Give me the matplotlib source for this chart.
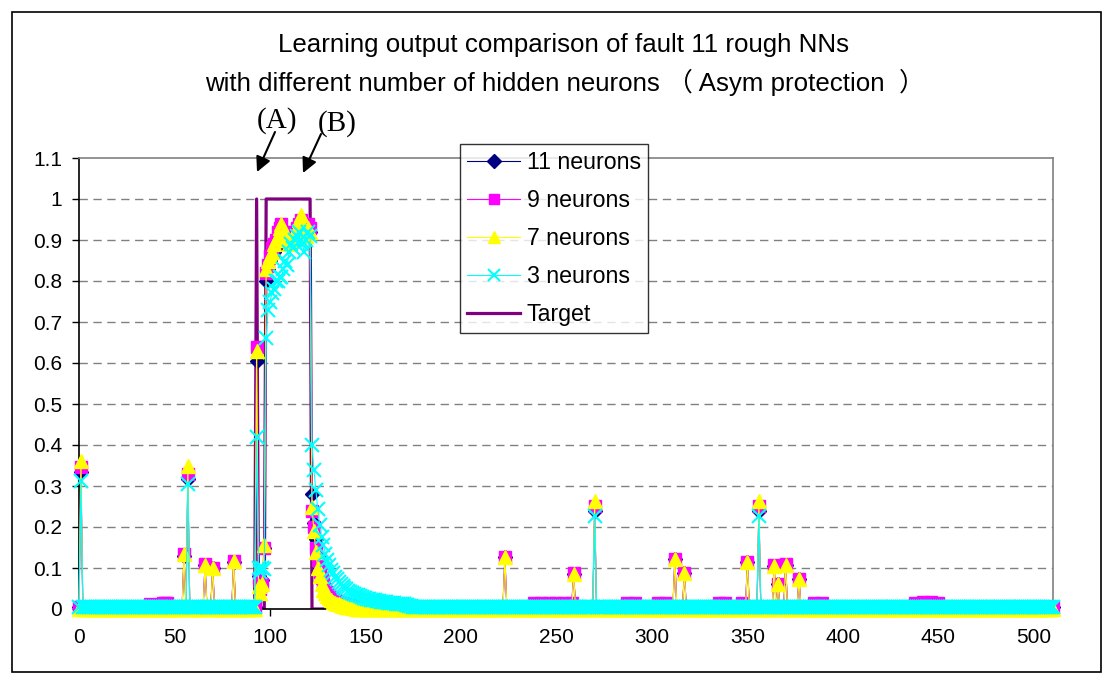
import matplotlib
matplotlib.use("Agg")
import matplotlib.pyplot as plt
import numpy as np
from matplotlib.patches import Rectangle

plt.rcParams['font.family'] = ['Liberation Sans', 'Noto Sans CJK SC', 'DejaVu Sans']

# ---------------------------------------------------------------- data
sample_first, sample_last = 0, 510

x_ticks = [0, 50, 100, 150, 200, 250, 300, 350, 400, 450, 500]
y_ticks = [0, 0.1, 0.2, 0.3, 0.4, 0.5, 0.6, 0.7, 0.8, 0.9, 1.0, 1.1]
y_tick_labels = ['0', '0.1', '0.2', '0.3', '0.4', '0.5', '0.6', '0.7', '0.8', '0.9', '1', '1.1']

series_labels = ['11 neurons', '9 neurons', '7 neurons', '3 neurons']

# quiet-level output of each network
baseline_11 = 0.005
baseline_9 = 0.006
baseline_7 = 0.001
baseline_3 = 0.006

# samples where the fault target is active
target_on = [93] + list(range(98, 122))

# isolated spikes outside the fault window
spike_x = [1, 55, 57, 66, 70, 81, 223, 259, 270, 312, 317, 350, 356, 364, 366, 370, 377]
spike_11 = [0.333, 0.130, 0.318, 0.108, 0.100, 0.115, 0.128, 0.086, 0.240, 0.122, 0.087, 0.114, 0.240, 0.106, 0.061, 0.108, 0.073]
spike_9 = [0.347, 0.135, 0.330, 0.110, 0.101, 0.117, 0.127, 0.087, 0.252, 0.123, 0.088, 0.115, 0.252, 0.107, 0.062, 0.109, 0.074]
spike_7 = [0.360, 0.133, 0.348, 0.108, 0.100, 0.116, 0.126, 0.086, 0.263, 0.122, 0.087, 0.114, 0.263, 0.106, 0.061, 0.108, 0.073]
spike3_x = [1, 57, 270, 356]
spike_3 = [0.312, 0.305, 0.228, 0.228]

# small raised stretches of the 9-neuron output
bump9_x = [37, 44, 45, 46, 238, 242, 246, 250, 254, 258, 287, 291, 303, 307, 335, 338, 347, 350, 385, 389, 438, 442, 446, 450]
bump9 = [0.013, 0.014, 0.015, 0.014, 0.014, 0.015, 0.015, 0.014, 0.015, 0.014, 0.014, 0.015,
         0.014, 0.015, 0.014, 0.014, 0.014, 0.014, 0.014, 0.015, 0.014, 0.016, 0.016, 0.014]

# fault window, samples 93..121
window_start = 93
window_11 = [0.605, 0.080, 0.050, 0.070, 0.150,
             0.800, 0.830, 0.850, 0.860, 0.870, 0.880, 0.890, 0.900, 0.910, 0.920, 0.910, 0.900,
             0.900, 0.910, 0.920, 0.910, 0.920, 0.930, 0.920, 0.910, 0.920, 0.930, 0.920, 0.920]
window_9 = [0.640, 0.075, 0.050, 0.060, 0.150,
            0.820, 0.840, 0.860, 0.880, 0.890, 0.900, 0.920, 0.930, 0.940, 0.920, 0.910, 0.900,
            0.910, 0.920, 0.900, 0.910, 0.930, 0.940, 0.950, 0.930, 0.920, 0.930, 0.940, 0.930]
window_7 = [0.630, 0.055, 0.040, 0.060, 0.155,
            0.830, 0.850, 0.860, 0.870, 0.890, 0.900, 0.910, 0.930, 0.940, 0.930, 0.910, 0.900,
            0.890, 0.900, 0.910, 0.920, 0.930, 0.950, 0.960, 0.940, 0.920, 0.910, 0.930, 0.920]
window_3 = [0.420, 0.100, 0.090, 0.100, 0.098,
            0.660, 0.730, 0.750, 0.770, 0.780, 0.800, 0.800, 0.810, 0.810, 0.830, 0.850, 0.840,
            0.870, 0.890, 0.880, 0.900, 0.910, 0.920, 0.900, 0.890, 0.870, 0.900, 0.920, 0.910]

# decay after the fault clears, from sample 122
tail_start = 122
tail_11 = [0.280, 0.210, 0.170, 0.130, 0.100, 0.080, 0.065, 0.054, 0.045, 0.038, 0.033, 0.028,
           0.025, 0.022, 0.019, 0.017, 0.015, 0.013, 0.012, 0.011, 0.010, 0.009, 0.008, 0.007]
tail_9 = [0.240, 0.200, 0.150, 0.120, 0.090, 0.075, 0.060, 0.050, 0.042, 0.035, 0.030, 0.026,
          0.022, 0.019, 0.017, 0.015, 0.013, 0.012, 0.011, 0.010, 0.009, 0.008, 0.007]
tail_7 = [0.250, 0.190, 0.140, 0.100, 0.080, 0.060, 0.047, 0.038, 0.031, 0.026, 0.022, 0.018,
          0.015, 0.013, 0.011, 0.009, 0.008, 0.007, 0.006, 0.005, 0.004, 0.003, 0.002]
tail_3 = [0.400, 0.340, 0.290, 0.245, 0.205, 0.175, 0.155, 0.135, 0.120, 0.107, 0.096, 0.087,
          0.079, 0.072, 0.066, 0.061, 0.056, 0.052, 0.048, 0.045, 0.042, 0.039, 0.037, 0.035,
          0.033, 0.031, 0.029, 0.028, 0.026, 0.025, 0.024, 0.023, 0.022, 0.021, 0.020, 0.019,
          0.018, 0.017, 0.017, 0.016, 0.015, 0.015, 0.014, 0.014, 0.013, 0.013, 0.012, 0.012,
          0.011, 0.010, 0.009, 0.008, 0.007]


# ---------------------------------------------------------------- assemble
samples = np.arange(sample_first, sample_last + 1)


def build(base, sx, sv, win, tail, bx=(), bv=()):
    y = np.full(samples.size, base, dtype=float)
    for i, v in zip(bx, bv):
        y[i - sample_first] = v
    for i, v in zip(sx, sv):
        y[i - sample_first] = v
    y[window_start - sample_first:window_start - sample_first + len(win)] = win
    y[tail_start - sample_first:tail_start - sample_first + len(tail)] = tail
    return y


out_11 = build(baseline_11, spike_x, spike_11, window_11, tail_11)
out_9 = build(baseline_9, spike_x, spike_9, window_9, tail_9, bump9_x, bump9)
out_7 = build(baseline_7, spike_x, spike_7, window_7, tail_7)
out_3 = build(baseline_3, spike3_x, spike_3, window_3, tail_3)

target = np.zeros(samples.size)
target[np.array(target_on) - sample_first] = 1.0

# ---------------------------------------------------------------- figure
W, H = 1114, 684
fig = plt.figure(figsize=(W / 100, H / 100), dpi=100)
fig.patch.set_facecolor('white')

L, R, T, B = 79, 1053, 158, 609
ax = fig.add_axes([L / W, 1 - B / H, (R - L) / W, (B - T) / H])

ax.plot(samples, target, color='#800080', lw=2.3, zorder=2, label='Target')

line_style = dict(lw=0.8, clip_on=False)
ax.plot(samples, out_11, color='#000080', marker='D', ms=7.5, mec='#000080', mfc='#000080',
        zorder=3, label=series_labels[0], **line_style)
ax.plot(samples, out_9, color='#FF00FF', marker='s', ms=8.2, mec='#FF00FF', mfc='#FF00FF',
        zorder=4, label=series_labels[1], **line_style)
ax.plot(samples, out_7, color='#FFFF00', marker='^', ms=9.5, mec='#FFFF00', mfc='#FFFF00',
        zorder=5, label=series_labels[2], **line_style)
ax.plot(samples, out_3, color='#00FFFF', marker='x', ms=9.5, mew=1.5, mec='#00FFFF',
        zorder=6, label=series_labels[3], **line_style)

ax.set_xlim(0, 510)
ax.set_ylim(0, 1.1)
ax.set_xticks(x_ticks)
ax.set_xticklabels([str(t) for t in x_ticks])
ax.set_yticks(y_ticks)
ax.set_yticklabels(y_tick_labels)
ax.tick_params(axis='both', direction='out', length=5, width=1, color='black', labelsize=15)
ax.tick_params(axis='x', pad=9)
ax.tick_params(axis='y', pad=7)

for yv in y_ticks[1:-1]:
    ax.axhline(yv, color='#808080', lw=1, ls=(0, (6, 4)), zorder=1)

ax.spines['left'].set_color('#000000')
ax.spines['bottom'].set_color('#000000')
ax.spines['top'].set_color('#808080')
ax.spines['right'].set_color('#808080')
for s in ax.spines.values():
    s.set_linewidth(1.2)

# legend, ordered as in the chart
handles, labels = ax.get_legend_handles_labels()
order = [1, 2, 3, 4, 0]
leg = ax.legend([handles[i] for i in order], [labels[i] for i in order],
                loc='upper left', bbox_to_anchor=(460 / W, 1 - 144 / H),
                bbox_transform=fig.transFigure, borderaxespad=0,
                frameon=True, fancybox=False, shadow=False, fontsize=16.7,
                handlelength=2.3, handletextpad=0.28, labelspacing=0.65,
                borderpad=0.3, numpoints=1, markerscale=0.9)
leg.get_frame().set_edgecolor('black')
leg.get_frame().set_linewidth(1)
leg.set_zorder(10)

# title
fig.text(564 / W, 1 - 45 / H, 'Learning output comparison of fault 11 rough NNs',
         ha='center', va='center', fontsize=18.6)
fig.text(565 / W, 1 - 82 / H, 'with different number of hidden neurons （ Asym protection  ）',
         ha='center', va='center', fontsize=18.6)

# event markers
serif = ['Liberation Serif', 'DejaVu Serif']
fig.text(277 / W, 1 - 121 / H, '(A)', ha='center', va='center', fontsize=21, family=serif)
fig.text(337 / W, 1 - 124 / H, '(B)', ha='center', va='center', fontsize=21, family=serif)
arrow_style = dict(arrowstyle='-|>,head_length=0.6,head_width=0.3', color='black', lw=1.5,
                   mutation_scale=15, shrinkA=0, shrinkB=0)
ax.annotate('', xy=(257 / W, 1 - 172 / H), xycoords='figure fraction',
            xytext=(275 / W, 1 - 132 / H), textcoords='figure fraction',
            arrowprops=arrow_style)
ax.annotate('', xy=(303 / W, 1 - 173 / H), xycoords='figure fraction',
            xytext=(321 / W, 1 - 134 / H), textcoords='figure fraction',
            arrowprops=arrow_style)

# outer chart frame
fig.patches.append(Rectangle((12 / W, 1 - 672 / H), (1101 - 12) / W, (672 - 12) / H,
                             transform=fig.transFigure, fill=False,
                             edgecolor='black', lw=1.2))

fig.savefig('out.png', dpi=100)
